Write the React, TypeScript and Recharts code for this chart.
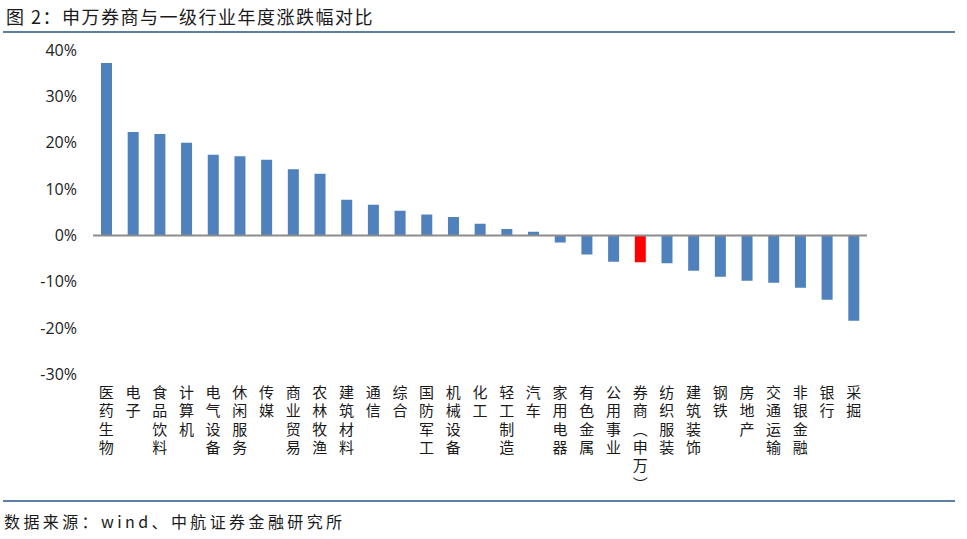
import React from "react";
import { BarChart, Bar, XAxis, YAxis, Cell, ReferenceLine } from "recharts";

const categories: string[] = [
  "医药生物", "电子", "食品饮料", "计算机", "电气设备", "休闲服务", "传媒", "商业贸易",
  "农林牧渔", "建筑材料", "通信", "综合", "国防军工", "机械设备", "化工", "轻工制造",
  "汽车", "家用电器", "有色金属", "公用事业", "券商（申万）", "纺织服装", "建筑装饰",
  "钢铁", "房地产", "交通运输", "非银金融", "银行", "采掘",
];

const changes: number[] = [
  37.2, 22.3, 21.9, 20.0, 17.4, 17.1, 16.3, 14.3,
  13.3, 7.7, 6.6, 5.3, 4.5, 4.0, 2.5, 1.4,
  0.8, -1.5, -4.1, -5.7, -5.8, -6.0, -7.6,
  -8.9, -9.8, -10.2, -11.3, -13.9, -18.4,
];

const highlighted = "券商（申万）";
const yTicks: number[] = [-30, -20, -10, 0, 10, 20, 30, 40];

const title = "图 2：申万券商与一级行业年度涨跌幅对比";
const source = "数据来源：wind、中航证券金融研究所";

const data = categories.map((name, i) => ({ name, value: changes[i] }));

const verticalChar = (c: string) => (c === "（" ? "︵" : c === "）" ? "︶" : c);

const CategoryTick = (props: any) => {
  const { x, y, payload } = props;
  const chars = Array.from(String(payload.value));
  return (
    <g>
      {chars.map((c, i) => (
        <text
          key={i}
          x={x}
          y={y + 23.5 + i * 18.3}
          textAnchor="middle"
          fontFamily='"Noto Sans CJK SC", sans-serif'
          fontSize={15}
          fill="#1a1a1a"
        >
          {verticalChar(c)}
        </text>
      ))}
    </g>
  );
};

export default function App() {
  return (
    <div
      style={{
        position: "absolute",
        left: 0,
        top: 0,
        width: 967,
        height: 539,
        background: "#ffffff",
        overflow: "hidden",
      }}
    >
      <div
        style={{
          position: "absolute",
          left: 6,
          top: 5,
          fontFamily: '"Noto Sans CJK SC", sans-serif',
          fontSize: 18,
          letterSpacing: 1.5,
          color: "#1a1a1a",
          lineHeight: "22px",
          whiteSpace: "nowrap",
        }}
      >
        {title}
      </div>
      <div
        style={{
          position: "absolute",
          left: 3,
          top: 31,
          width: 952,
          height: 2,
          background: "#5b7fa5",
        }}
      />
      <div style={{ position: "absolute", left: 0, top: 0 }}>
        <BarChart
          width={967}
          height={539}
          data={data}
          margin={{ top: 50, right: 100, bottom: 0, left: 0 }}
        >
          <XAxis
            dataKey="name"
            interval={0}
            axisLine={false}
            tickLine={false}
            tickSize={0}
            tickMargin={0}
            height={164.5}
            tick={<CategoryTick />}
          />
          <YAxis
            width={93}
            domain={[-30, 40]}
            ticks={yTicks}
            allowDataOverflow
            axisLine={false}
            tickLine={false}
            tickSize={0}
            tickMargin={16}
            tickFormatter={(v: number) => `${v}%`}
            tick={{ fontFamily: '"Open Sans", sans-serif', fontSize: 16, fill: "#222" }}
          />
          <Bar dataKey="value" barSize={11} isAnimationActive={false}>
            {data.map((d, i) => (
              <Cell key={i} fill={d.name === highlighted ? "#ff0000" : "#4f81bd"} />
            ))}
          </Bar>
          <ReferenceLine y={0} stroke="#8c8c8c" strokeWidth={2} ifOverflow="extendDomain" />
        </BarChart>
      </div>
      <div
        style={{
          position: "absolute",
          left: 3,
          top: 500,
          width: 952,
          height: 2,
          background: "#5b7fa5",
        }}
      />
      <div
        style={{
          position: "absolute",
          left: 4,
          top: 510,
          fontFamily: '"Noto Sans CJK SC", sans-serif',
          fontSize: 16,
          letterSpacing: 3.4,
          color: "#1a1a1a",
          lineHeight: "22px",
          whiteSpace: "nowrap",
        }}
      >
        {source}
      </div>
    </div>
  );
}
